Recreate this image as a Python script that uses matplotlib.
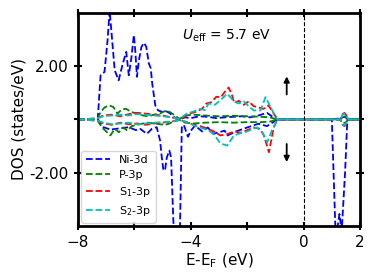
import matplotlib
matplotlib.use('Agg')
import matplotlib.pyplot as plt

# Ni-3d
ni_up_e = [-8.0, -7.5, -7.3, -7.2, -7.06, -6.95, -6.88, -6.82, -6.70, -6.56, -6.41, -6.29, -6.20,
           -6.11, -6.02, -5.97, -5.91, -5.84, -5.75, -5.66, -5.58, -5.49, -5.42, -5.37, -5.26,
           -5.16, -5.0, -4.85, -4.73, -4.55, -4.4, -4.2, -4.0, -3.7, -3.4, -3.1, -2.8, -2.5,
           -2.2, -1.9, -1.6, -1.3, -1.1, -0.93, 1.0, 1.3, 1.45, 1.6, 2.0]
ni_up = [0, 0, 0.02, 1.66, 1.79, 3.0, 4.1, 3.36, 1.85, 1.47, 2.11, 2.54, 1.66,
         2.30, 3.17, 2.60, 1.60, 2.23, 2.73, 2.88, 2.73, 2.11, 1.92, 1.36, 0.53,
         0.34, 0.28, 0.30, 0.22, 0.05, 0.0, 0.08, 0.05, 0.12, 0.1, 0.05, 0.08, 0.1,
         0.12, 0.08, 0.15, 0.25, 0.1, 0, 0, 0.05, 0.1, 0, 0]
ni_dn_e = [-8.0, -7.5, -7.3, -7.1, -6.85, -6.5, -6.2, -5.95, -5.80, -5.56, -5.38, -5.21, -5.09,
           -5.03, -4.97, -4.91, -4.85, -4.76, -4.70, -4.62, -4.5, -4.4, -4.32, -4.25, -4.1,
           -4.0, -3.85, -3.6, -3.4, -3.2, -2.8, -2.7, -2.4, -2.0, -1.6, -1.3, -0.93,
           1.0, 1.14, 1.27, 1.35, 1.47, 1.55, 2.0]
ni_dn = [0, 0, 0, -0.29, -0.38, -0.33, -0.29, -0.40, -0.35, -0.54, -0.35, -0.29, -0.79,
         -1.42, -1.92, -1.86, -1.42, -1.17, -1.42, -3.8, -5.5, -5.0, -0.3, -0.2, -0.65,
         -0.42, -0.23, -0.45, -0.3, -0.54, -0.42, -0.6, -0.45, -0.3, -0.16, -0.25, 0,
         0, -4.5, -3.55, -4.2, -2.0, 0, 0]

# P-3p
p_up_e = [-8, -7.5, -7.3, -7.2, -7.06, -6.9, -6.75, -6.6, -6.45, -6.3, -6.1, -5.9, -5.7, -5.5,
          -5.3, -5.1, -4.95, -4.85, -4.7, -4.5, -4.4, -4.2, -3.9, -3.5, -3.0, -2.5, -2.0,
          -1.5, -1.2, -0.93, 1.3, 1.4, 1.5, 1.6, 2]
p_up = [0, 0.02, 0.05, 0.28, 0.45, 0.53, 0.47, 0.22, 0.38, 0.40, 0.28, 0.22, 0.15, 0.12,
        0.18, 0.22, 0.30, 0.34, 0.25, 0.1, 0.02, 0.15, 0.18, 0.15, 0.12, 0.14, 0.12,
        0.1, 0.08, 0, 0, 0.15, 0.1, 0, 0]
p_dn_e = [-8, -7.5, -7.3, -7.15, -7.0, -6.85, -6.7, -6.55, -6.4, -6.25, -6.1, -5.9, -5.7, -5.5,
          -5.3, -5.1, -4.9, -4.75, -4.6, -4.4, -4.2, -3.9, -3.5, -3.0, -2.5, -2.0, -1.5,
          -1.2, -0.93, 1.3, 1.4, 1.5, 1.6, 2]
p_dn = [0, -0.02, -0.05, -0.3, -0.45, -0.6, -0.35, -0.48, -0.3, -0.42, -0.25, -0.2, -0.15, -0.12,
        -0.15, -0.18, -0.2, -0.15, -0.05, -0.02, -0.12, -0.15, -0.12, -0.1, -0.12, -0.1, -0.1,
        -0.08, 0, 0, -0.15, -0.1, 0, 0]

# S1-3p
s1_up_e = [-8, -7.5, -7.3, -7.1, -6.8, -6.5, -6.2, -5.9, -5.6, -5.3, -5.0, -4.7, -4.4, -4.3,
           -4.05, -3.85, -3.6, -3.45, -3.27, -3.1, -2.93, -2.8, -2.66, -2.55, -2.46, -2.3,
           -2.12, -1.95, -1.77, -1.6, -1.42, -1.25, -1.1, -0.93, 1.3, 1.38, 1.45, 1.52, 1.6, 2]
s1_up = [0, 0.03, 0.05, 0.15, 0.18, 0.12, 0.2, 0.25, 0.22, 0.18, 0.15, 0.08, 0.02, 0.05,
         0.22, 0.28, 0.4, 0.6, 0.65, 0.85, 0.84, 1.03, 1.2, 0.95, 0.62, 0.7,
         0.55, 0.68, 0.5, 0.45, 0.4, 0.53, 0.3, 0, 0, 0.2, 0.25, 0.15, 0, 0]
s1_dn_e = [-8, -7.5, -7.3, -7.1, -6.8, -6.5, -6.2, -5.9, -5.6, -5.3, -5.0, -4.7, -4.4, -4.14,
           -3.9, -3.67, -3.4, -3.19, -2.95, -2.71, -2.45, -2.24, -2.0, -1.77, -1.55, -1.41,
           -1.23, -1.06, -0.93, 1.3, 1.38, 1.45, 1.52, 1.6, 2]
s1_dn = [0, -0.03, -0.05, -0.15, -0.2, -0.12, -0.18, -0.15, -0.2, -0.15, -0.12, -0.08, -0.02, -0.1,
         -0.2, -0.25, -0.35, -0.45, -0.6, -0.55, -0.45, -0.5, -0.4, -0.3, -0.35, -0.6,
         -1.23, -0.3, 0, 0, -0.2, -0.25, -0.15, 0, 0]

# S2-3p
s2_up_e = [-8, -7.5, -7.3, -7.1, -6.8, -6.5, -6.2, -5.9, -5.6, -5.3, -5.0, -4.7, -4.4, -4.14,
           -3.9, -3.67, -3.5, -3.37, -3.15, -2.95, -2.71, -2.47, -2.3, -2.12, -1.95, -1.77,
           -1.53, -1.35, -1.17, -1.0, -0.93, 1.3, 1.38, 1.45, 1.52, 1.6, 2]
s2_up = [0, 0.03, 0.05, 0.12, 0.15, 0.18, 0.15, 0.2, 0.18, 0.15, 0.12, 0.08, 0.02, 0.22,
         0.3, 0.4, 0.35, 0.6, 0.55, 0.72, 0.97, 0.68, 0.6, 0.68, 0.5, 0.34,
         0.34, 0.84, 0.46, 0.1, 0, 0, 0.18, 0.22, 0.12, 0, 0]
s2_dn_e = [-8, -7.5, -7.3, -7.1, -6.8, -6.5, -6.2, -5.9, -5.6, -5.3, -5.0, -4.7, -4.4, -4.14,
           -3.9, -3.67, -3.4, -3.19, -2.95, -2.71, -2.47, -2.2, -2.0, -1.8, -1.65, -1.45,
           -1.29, -1.12, -0.93, 1.3, 1.38, 1.45, 1.52, 1.6, 2]
s2_dn = [0, -0.03, -0.05, -0.12, -0.18, -0.15, -0.12, -0.18, -0.15, -0.12, -0.1, -0.08, -0.02, -0.1,
         -0.22, -0.3, -0.4, -0.55, -0.9, -0.98, -0.6, -0.5, -0.45, -0.35, -0.3, -0.5,
         -0.86, -0.4, 0, 0, -0.18, -0.22, -0.12, 0, 0]

labels = ['Ni-3d', 'P-3p', r'S$_1$-3p', r'S$_2$-3p']
colors = ['b', 'g', 'r', 'c']

fig = plt.figure(figsize=(3.74, 2.8), dpi=100)
ax = fig.add_axes([0.2086, 0.193, 0.754, 0.7606])

series = [(ni_up_e, ni_up, ni_dn_e, ni_dn),
          (p_up_e, p_up, p_dn_e, p_dn),
          (s1_up_e, s1_up, s1_dn_e, s1_dn),
          (s2_up_e, s2_up, s2_dn_e, s2_dn)]

for (eu, du, ed, dd), lab, col in zip(series, labels, colors):
    ax.plot(eu, du, '--', color=col, lw=1.3, label=lab, zorder=2)
    ax.plot(ed, dd, '--', color=col, lw=1.3, zorder=2)
ax.axvline(0, color='k', ls='--', lw=0.8)

ax.set_xlim(-8, 2)
ax.set_ylim(-4, 4)
ax.set_xticks([-8, -6, -4, -2, 0, 2])
ax.set_xticklabels(['\u22128', '', '\u22124', '', '0', '2'])
ax.set_yticks([-2, 0, 2])
ax.set_yticklabels(['-2.00', '', '2.00'])
ax.tick_params(direction='inout', length=6, width=1.5, labelsize=11,
               top=True, right=True)
for s in ax.spines.values():
    s.set_linewidth(2)

ax.set_xlabel(r'E-E$_\mathrm{F}$ (eV)', fontsize=11, labelpad=1)
ax.set_ylabel('DOS (states/eV)', fontsize=11, labelpad=2)
ax.text(-2.75, 3.15, r'$U_\mathrm{eff}$ = 5.7 eV', fontsize=10, ha='center', va='center')

# spin arrows
arrow = dict(arrowstyle='-|>', color='k', lw=1.3, mutation_scale=8,
             shrinkA=0, shrinkB=0)
ax.annotate('', xy=(-0.6, 1.62), xytext=(-0.6, 0.94), arrowprops=arrow)
ax.annotate('', xy=(-0.6, -1.6), xytext=(-0.6, -0.92), arrowprops=arrow)

ax.legend(loc='lower left', fontsize=8, handlelength=2.2, borderaxespad=0.3,
          labelspacing=0.45)

fig.savefig('out.png', dpi=100)
